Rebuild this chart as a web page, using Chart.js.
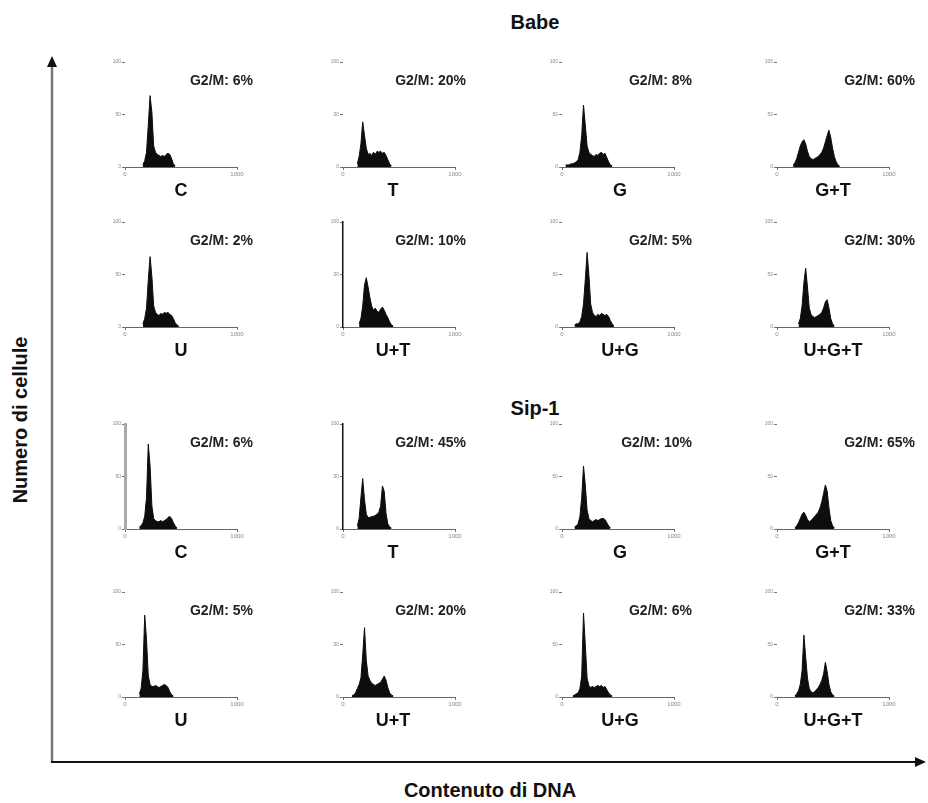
<!DOCTYPE html>
<html>
<head>
<meta charset="utf-8">
<script src="https://cdn.jsdelivr.net/npm/chart.js@4.4.0/dist/chart.umd.min.js"></script>
<style>
  body { margin: 0; background: #fff; }
  #fig { position: relative; width: 928px; height: 803px; overflow: hidden;
         font-family: "Liberation Sans", Arial, sans-serif; color: #111; }
  #fig canvas { position: absolute; }
  .g2m { position: absolute; font-weight: bold; font-size: 14px; white-space: nowrap;
         transform: translate(-100%, -50%); color: #222; }
  .lab { position: absolute; font-weight: bold; font-size: 18px; white-space: nowrap;
         transform: translate(-50%, -50%); }
  .title { position: absolute; font-weight: bold; font-size: 20px; white-space: nowrap;
           transform: translate(-50%, -50%); }
  #axes { position: absolute; left: 0; top: 0; }
</style>
</head>
<body>
<div id="fig">
  <svg id="axes" width="928" height="803">
    <line x1="52" y1="66" x2="52" y2="762" stroke="#777" stroke-width="2.5"/>
    <polygon points="52,56 47,67 57,67" fill="#111"/>
    <line x1="51" y1="762" x2="916" y2="762" stroke="#111" stroke-width="2"/>
    <polygon points="926,762 915,757 915,767" fill="#111"/>
  </svg>
</div>
<script>
// categories
const treatments = ['C', 'T', 'G', 'G+T', 'U', 'U+T', 'U+G', 'U+G+T'];
const groups = ['Babe', 'Sip-1'];
const axisTitles = ['Numero di cellule', 'Contenuto di DNA'];

// G2/M percentages
const g2mBabe = [6, 20, 8, 60, 2, 10, 5, 30];
const g2mSip1 = [6, 45, 10, 65, 5, 20, 6, 33];

// histogram bins (DNA channel 0-1000, bin width 16), first bin channel per panel
const binWidth = 16;
const startBabe = [160, 128, 32, 144, 160, 144, 112, 192];
const startSip1 = [128, 128, 112, 160, 128, 80, 96, 160];

// counts, scaled to the panel y axis (0-100)
const babeC   = [2, 6, 14, 40, 68, 52, 20, 14, 12, 11, 10, 11, 10, 12, 13, 12, 8, 3, 1];
const babeT   = [3, 10, 22, 43, 30, 18, 12, 13, 11, 14, 12, 15, 14, 15, 13, 14, 11, 7, 3, 1];
const babeG   = [2, 2, 2, 3, 3, 4, 5, 7, 14, 30, 59, 40, 20, 14, 12, 11, 10, 12, 11, 13, 14, 12, 13, 9, 5, 2, 1];
const babeGT  = [2, 4, 8, 14, 20, 24, 26, 22, 15, 10, 8, 7, 8, 9, 10, 12, 14, 18, 24, 30, 35, 28, 18, 10, 5, 2, 1];
const babeU   = [3, 8, 18, 45, 67, 48, 20, 14, 12, 11, 13, 12, 14, 13, 14, 12, 11, 8, 4, 2, 1];
const babeUT  = [3, 8, 20, 40, 47, 38, 28, 20, 16, 18, 15, 14, 17, 19, 16, 12, 9, 5, 2, 1];
const babeUG  = [2, 3, 3, 5, 10, 22, 45, 71, 50, 22, 14, 11, 10, 12, 11, 13, 12, 11, 12, 10, 6, 3, 1];
const babeUGT = [3, 8, 20, 42, 56, 38, 18, 12, 10, 9, 10, 11, 12, 14, 18, 24, 26, 18, 8, 3, 1];

const sipC    = [2, 3, 6, 12, 30, 81, 60, 22, 10, 8, 7, 7, 8, 7, 8, 9, 11, 12, 10, 6, 3, 1];
const sipT    = [3, 10, 30, 48, 28, 14, 11, 11, 12, 12, 13, 14, 16, 22, 41, 36, 15, 5, 2, 1];
const sipG    = [2, 3, 5, 12, 30, 60, 42, 18, 10, 8, 7, 8, 9, 8, 9, 10, 10, 9, 6, 3, 1];
const sipGT   = [1, 3, 6, 10, 14, 16, 13, 9, 7, 8, 10, 12, 14, 16, 20, 26, 34, 42, 36, 20, 8, 3, 1];
const sipU    = [3, 8, 25, 78, 55, 20, 12, 10, 10, 11, 10, 9, 10, 11, 12, 11, 9, 5, 2, 1];
const sipUT   = [1, 2, 4, 8, 12, 18, 40, 66, 35, 20, 16, 13, 12, 11, 12, 13, 14, 17, 20, 16, 9, 4, 2, 1];
const sipUG   = [1, 2, 3, 4, 8, 20, 80, 50, 18, 11, 9, 10, 9, 10, 11, 10, 11, 9, 10, 7, 4, 2, 1];
const sipUGT  = [1, 3, 6, 12, 25, 59, 38, 18, 8, 5, 4, 5, 7, 9, 12, 16, 22, 33, 24, 12, 5, 2, 1];

const countsBabe = [babeC, babeT, babeG, babeGT, babeU, babeUT, babeUG, babeUGT];
const countsSip1 = [sipC, sipT, sipG, sipGT, sipU, sipUT, sipUG, sipUGT];

// layout
const colLeft = [125, 343, 562, 777];
const rowBase = [167, 327, 529, 697];
const g2mRight = [253, 466, 692, 915];
const labelX = [181, 393, 620, 833];
const plotW = 112, plotH = 105;
const padL = 14, padR = 14, padT = 6, padB = 14;
// panels with a drawn left axis line
const yLineStyle = { 5: { color: '#111', width: 1.5 }, 8: { color: '#aaa', width: 3 }, 9: { color: '#111', width: 1.5 } };

const fig = document.getElementById('fig');

function addText(cls, text, x, y) {
  const d = document.createElement('div');
  d.className = cls;
  d.textContent = text;
  d.style.left = x + 'px';
  d.style.top = y + 'px';
  fig.appendChild(d);
  return d;
}

addText('title', groups[0], 535, 22);
addText('title', groups[1], 535, 408);
const yt = addText('title', axisTitles[0], 20, 420);
yt.style.transform = 'translate(-50%, -50%) rotate(-90deg)';
addText('title', axisTitles[1], 490, 790);

function panel(idx, start, counts, pct, name) {
  const row = Math.floor(idx / 4), col = idx % 4;
  const base = rowBase[row];
  const cv = document.createElement('canvas');
  cv.width = padL + plotW + padR;
  cv.height = padT + plotH + padB;
  cv.style.left = (colLeft[col] - padL) + 'px';
  cv.style.top = (base - plotH - padT) + 'px';
  fig.appendChild(cv);

  const pts = counts.map((v, i) => ({ x: start + i * binWidth, y: v }));
  const ys = yLineStyle[idx];

  new Chart(cv, {
    type: 'line',
    data: {
      datasets: [{
        data: pts,
        fill: 'origin',
        backgroundColor: '#0d0d0d',
        borderColor: '#0d0d0d',
        borderWidth: 1,
        pointRadius: 0,
        tension: 0
      }]
    },
    options: {
      responsive: false,
      animation: false,
      layout: { padding: { top: padT, right: padR, left: 0, bottom: 0 } },
      plugins: { legend: { display: false }, tooltip: { enabled: false } },
      scales: {
        x: {
          type: 'linear', min: 0, max: 1000,
          afterFit: s => { s.height = padB; },
          ticks: { stepSize: 1000, font: { size: 6 }, color: '#888', padding: 1, maxRotation: 0,
                   callback: v => String(v) },
          grid: { drawOnChartArea: false, tickLength: 3, color: '#777' },
          border: { display: true, color: '#666', dash: [2, 4], width: 1 }
        },
        y: {
          min: 0, max: 100,
          afterFit: s => { s.width = padL; },
          ticks: { stepSize: 50, font: { size: 5 }, color: '#888', padding: 1 },
          grid: { drawOnChartArea: false, tickLength: 3, color: '#777' },
          border: { display: !!ys, color: ys ? ys.color : '#000', width: ys ? ys.width : 1 }
        }
      }
    }
  });

  addText('g2m', 'G2/M: ' + pct + '%', g2mRight[col], base - 87);
  addText('lab', name, labelX[col], base + 23);
}

treatments.forEach((t, i) => panel(i, startBabe[i], countsBabe[i], g2mBabe[i], t));
treatments.forEach((t, i) => panel(8 + i, startSip1[i], countsSip1[i], g2mSip1[i], t));
</script>
</body>
</html>
